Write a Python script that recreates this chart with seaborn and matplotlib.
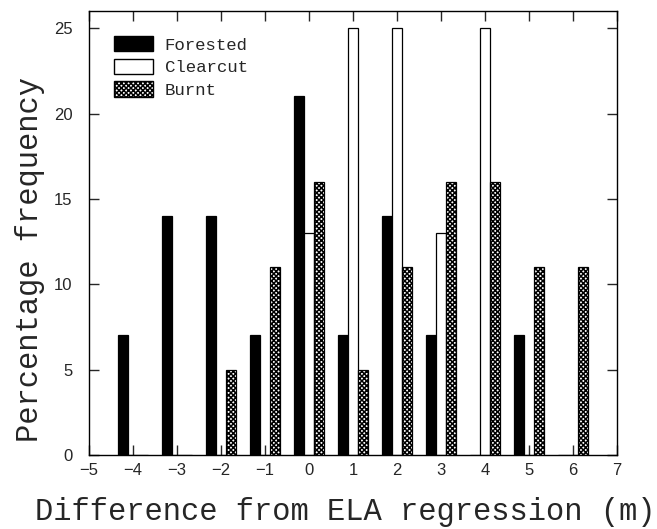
import numpy as np
import pandas as pd
import matplotlib
matplotlib.use('Agg')
import matplotlib.pyplot as plt
from matplotlib.patches import Patch
from matplotlib.ticker import MultipleLocator
import seaborn as sns

# Values (percentage frequency per 1 m bin)
diffs = [-4, -3, -2, -1, 0, 1, 2, 3, 4, 5, 6]
forested = [7, 14, 14, 7, 21, 7, 14, 7, 0, 7, 0]
clearcut = [0, 0, 0, 0, 13, 25, 25, 13, 25, 0, 0]
burnt = [0, 0, 5, 11, 16, 5, 11, 16, 16, 11, 11]
groups = ['Forested', 'Clearcut', 'Burnt']

df = pd.DataFrame({
    'diff': diffs * 3,
    'pct': forested + clearcut + burnt,
    'type': [g for g in groups for _ in diffs],
})

sns.set_style('ticks')
plt.rcParams['hatch.linewidth'] = 1.1
plt.rcParams['hatch.color'] = 'black'

fig = plt.figure(figsize=(6.57, 5.29), dpi=100)
ax = fig.add_axes([0.1355, 0.14, 0.8035, 0.839])

colors = {'Forested': 'black', 'Clearcut': 'white', 'Burnt': 'white'}
sns.barplot(data=df, x='diff', y='pct', hue='type', hue_order=groups,
            palette=colors, native_scale=True, width=0.7,
            edgecolor='black', linewidth=0.9, saturation=1,
            legend=False, ax=ax)

# hatch the burnt bars
for bar in ax.containers[2]:
    bar.set_hatch('xxxxxxx')

ax.set_xlim(-5, 7)
ax.set_ylim(0, 26)
ax.xaxis.set_major_locator(MultipleLocator(1))
ax.yaxis.set_major_locator(MultipleLocator(5))
ax.tick_params(direction='in', top=True, right=True, length=7, width=1,
               labelsize=12)
ax.tick_params(axis='x', pad=6)
ax.tick_params(axis='y', pad=12)
for s in ax.spines.values():
    s.set_visible(True)
    s.set_color('black')
    s.set_linewidth(1)
for lab in ax.get_xticklabels() + ax.get_yticklabels():
    lab.set_family('Liberation Sans')

mono = 'Liberation Mono'
ax.set_xlabel('Difference from ELA regression (m)', fontsize=22, family=mono)
ax.set_ylabel('Percentage frequency', fontsize=22, family=mono)
ax.xaxis.set_label_coords(0.485, -0.095)
ax.yaxis.set_label_coords(-0.083, 0.44)

handles = [Patch(facecolor='black', edgecolor='black', label='Forested'),
           Patch(facecolor='white', edgecolor='black', label='Clearcut'),
           Patch(facecolor='white', edgecolor='black', hatch='xxxxxxx',
                 label='Burnt')]
ax.legend(handles=handles, loc='upper left', frameon=False,
          prop={'family': mono, 'size': 12.5}, handlelength=2.2,
          handleheight=1.0, labelspacing=0.35, handletextpad=0.7,
          bbox_to_anchor=(0.035, 0.96), borderaxespad=0)

fig.savefig('out.png', dpi=100)
